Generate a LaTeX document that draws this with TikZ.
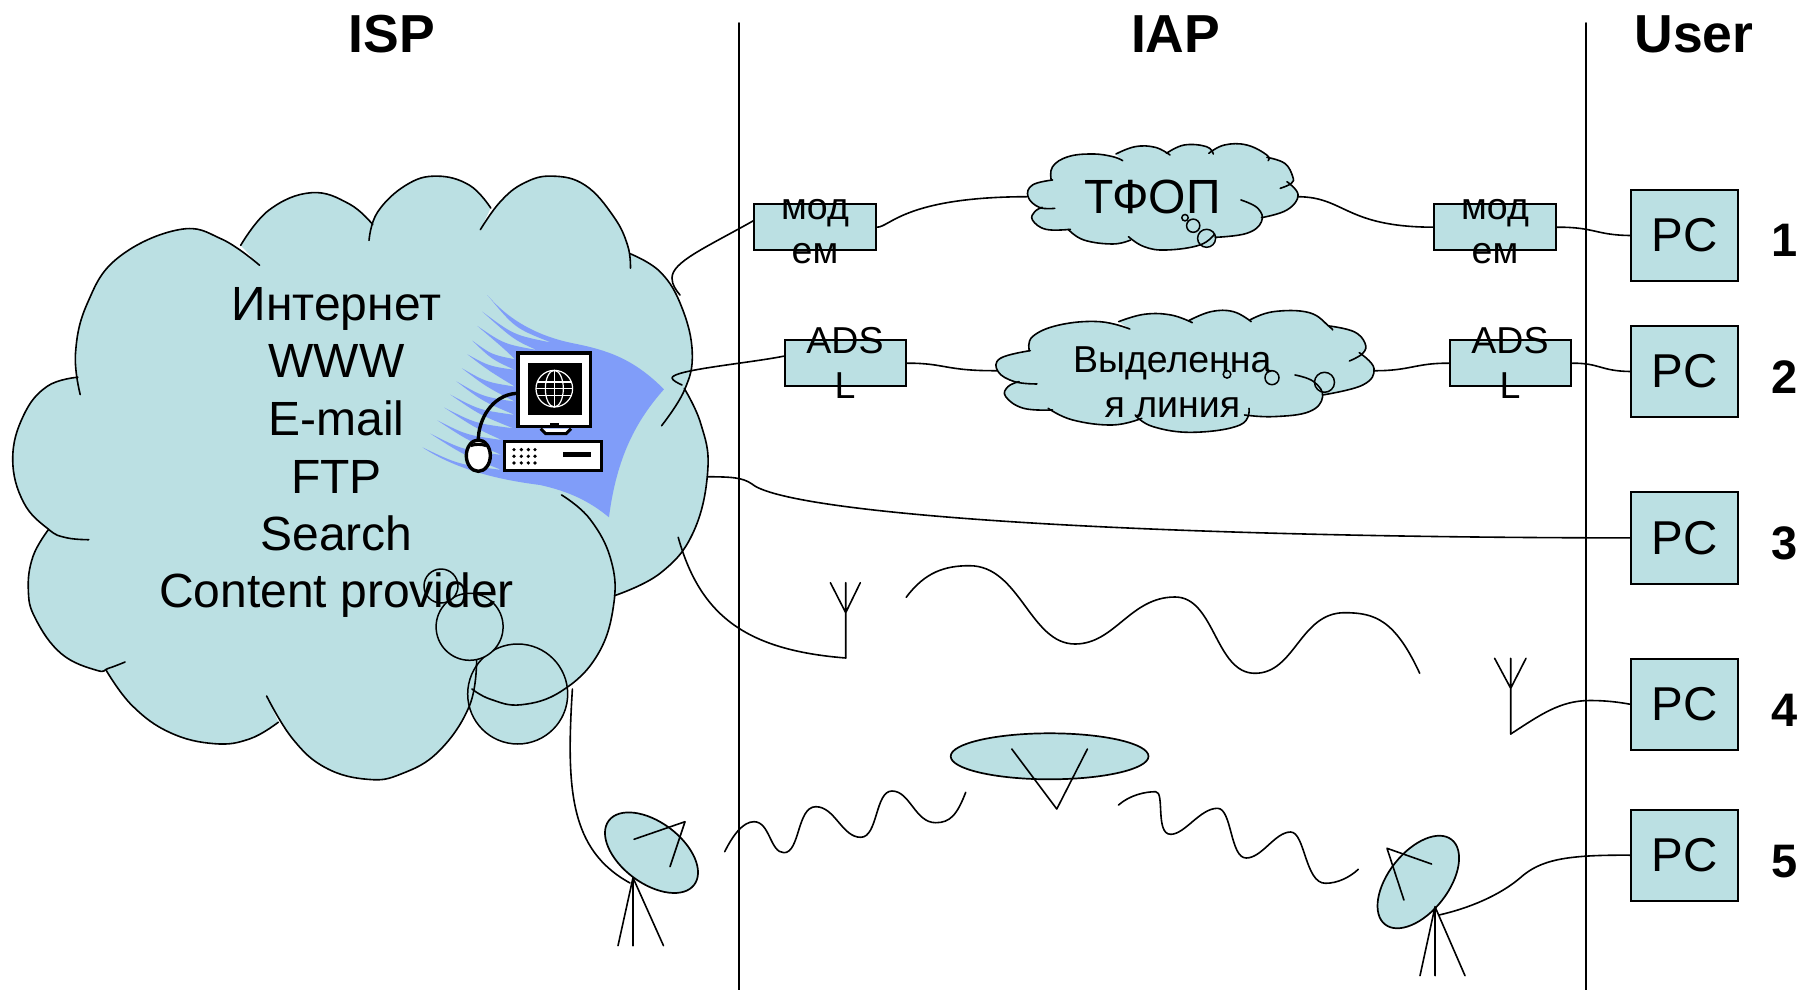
\documentclass[tikz,border=0pt]{standalone}
\usepackage{fontspec}
\setmainfont{Liberation Sans}
\usetikzlibrary{shapes.geometric}
\definecolor{cloudc}{HTML}{BBE0E3}
\definecolor{blueart}{HTML}{809DF9}
\newcommand{\fs}[1]{\fontsize{#1}{#1}\selectfont}
\tikzset{
  ln/.style={line width=1.6pt,line cap=round,line join=round},
  wire/.style={ln,black},
  cloudline/.style={ln},
  boxed/.style={draw=black,fill=cloudc,line width=2pt,inner sep=0pt},
  pcbox/.style={boxed,minimum width=106.7pt,minimum height=91.4pt,font=\fs{47.5}},
  modembox/.style={boxed,minimum width=121.7pt,minimum height=45.7pt},
  txt/.style={anchor=base,inner sep=0pt,outer sep=0pt},
  big/.style={txt,font=\fs{48}},
  mid/.style={txt,font=\fs{37.5}},
  head/.style={txt,font=\bfseries\fs{53.5}},
  num/.style={txt,font=\bfseries\fs{47}},
  dish/.style={ellipse,draw=black,fill=cloudc,line width=1.7pt,inner sep=0pt},
  bubble/.style={draw=black,fill=cloudc,line width=1.5pt},
}
\def\smo{plot[smooth,tension=.7] coordinates}
\def\fol{-- plot[smooth,tension=.7] coordinates}
% big cloud lobes
\def\bcA#1{#1{(170,590) (160,490) (185,370) (250,260) (380,192) (470,215) (550,278)}}
\def\bcB#1{#1{(510,230) (570,145) (660,103) (740,130) (790,180)}}
\def\bcC#1{#1{(782,218) (800,150) (860,85) (925,63) (995,85) (1040,140)}}
\def\bcD#1{#1{(1018,192) (1060,125) (1110,80) (1170,63) (1240,85) (1300,160) (1330,230) (1336,285)}}
\def\bcE#1{#1{(1335,250) (1400,295) (1445,380) (1467,490) (1450,580) (1402,665)}}
\def\bcF#1{#1{(1450,575) (1485,660) (1500,770) (1470,920) (1400,1020) (1302,1075)}}
\def\bcG#1{#1{(1190,832) (1250,890) (1295,990) (1300,1100) (1265,1220) (1190,1305) (1105,1338) (1040,1325) (1000,1300)}}
\def\bcH#1{#1{(1010,1230) (995,1340) (930,1450) (850,1505) (780,1518) (690,1490) (620,1420) (565,1317)}}
\def\bcI#1{#1{(590,1380) (530,1420) (455,1432) (360,1405) (280,1340) (225,1255)}}
\def\bcJ#1{#1{(265,1235) (230,1250) (205,1255) (130,1215) (75,1130) (60,1060) (70,980) (103,915)}}
\def\bcK#1{#1{(188,940) (140,935) (103,915) (50,850) (27,745) (50,640) (100,570) (165,548)}}
% TFOP cloud lobes
\def\tcA#1{#1{(750,235) (715,232) (690,200) (700,165) (745,150)}}
\def\tcB#1{#1{(742,150) (745,110) (780,80) (835,72) (880,80) (902,92)}}
\def\tcC#1{#1{(887,72) (930,50) (975,52) (1008,75)}}
\def\tcD#1{#1{(1000,70) (1040,45) (1090,50) (1105,72)}}
\def\tcE#1{#1{(1095,70) (1130,45) (1180,45) (1225,75) (1228,92)}}
\def\tcF#1{#1{(1225,82) (1265,100) (1283,140) (1280,160) (1255,175)}}
\def\tcG#1{#1{(1270,155) (1295,195) (1270,240) (1213,263)}}
\def\tcH#1{#1{(1167,210) (1205,235) (1213,275) (1180,310) (1110,322)}}
\def\tcI#1{#1{(1108,312) (1075,345) (1000,360) (950,350) (915,320)}}
\def\tcJ#1{#1{(920,330) (880,342) (815,330) (780,298)}}
\def\tcK#1{#1{(785,298) (730,298) (700,270) (705,245) (722,232)}}
% leased line cloud lobes
\def\lcA#1{#1{(710,762) (660,755) (623,725) (628,685) (695,662)}}
\def\lcB#1{#1{(693,662) (700,620) (760,585) (850,575) (918,597)}}
\def\lcC#1{#1{(893,575) (950,553) (1010,555) (1058,578)}}
\def\lcD#1{#1{(1050,572) (1100,545) (1150,545) (1190,575)}}
\def\lcE#1{#1{(1187,570) (1240,545) (1320,548) (1365,590) (1372,600)}}
\def\lcF#1{#1{(1365,588) (1420,605) (1445,640) (1440,670) (1410,693)}}
\def\lcG#1{#1{(1432,668) (1465,715) (1440,765) (1350,795)}}
\def\lcH#1{#1{(1288,735) (1330,755) (1350,800) (1320,845) (1240,860) (1175,855)}}
\def\lcI#1{#1{(1185,835) (1165,885) (1060,907) (970,890) (930,855)}}
\def\lcJ#1{#1{(945,865) (880,885) (790,870) (735,835)}}
\def\lcK#1{#1{(745,840) (680,835) (640,800) (645,770) (670,755)}}
\begin{document}
\begin{tikzpicture}[x=1pt,y=-1pt]
\useasboundingbox (0,0) rectangle (1802,990);
\fill[white] (0,0) rectangle (1802,990);

% dividers
\coordinate (d1t) at (739,23); \coordinate (d1b) at (739,990);
\coordinate (d2t) at (1586,23); \coordinate (d2b) at (1586,990);
\draw[ln] (d1t) -- (d1b);
\draw[ln] (d2t) -- (d2b);

% big cloud
\begin{scope}[shift={(0,150)},x=0.4719pt,y=-0.4146pt]
\fill[cloudc] \bcA{\smo} \bcB{\fol} \bcC{\fol} \bcD{\fol} \bcE{\fol} \bcF{\fol} \bcG{\fol} \bcH{\fol} \bcI{\fol} \bcJ{\fol} \bcK{\fol} -- cycle;
\end{scope}
\fill[cloudc] (517.7,694) circle (50);
\draw[bubble] (517.7,694) circle (50);
\draw[bubble] (469.6,626.8) circle (33.5);
\draw[bubble] (441,586) circle (17);

% computer art
\begin{scope}[shift={(400,280)},x=0.3333pt,y=-0.3333pt]
\fill[blueart] (262,45) .. controls (330,125) and (420,170) .. (520,190)
  .. controls (620,210) and (700,235) .. (792,328)
  .. controls (710,420) and (650,530) .. (627,712)
  .. controls (570,665) and (510,635) .. (420,615)
  .. controls (300,600) and (170,570) .. (67,502)
  .. controls (174,553) .. (305,570) .. controls (187,523) .. (91,461)
  .. controls (187,509) .. (305,525) .. controls (199,479) .. (112,421)
  .. controls (199,465) .. (305,480) .. controls (226,444) .. (133,383)
  .. controls (226,430) .. (340,445) .. controls (238,404) .. (151,344)
  .. controls (238,390) .. (345,405) .. controls (248,364) .. (169,304)
  .. controls (248,350) .. (345,365) .. controls (258,320) .. (186,265)
  .. controls (258,306) .. (345,320) .. controls (266,272) .. (202,223)
  .. controls (266,258) .. (345,270) .. controls (275,238) .. (217,182)
  .. controls (275,224) .. (345,238) .. controls (312,206) .. (232,138)
  .. controls (312,192) .. (410,210) .. controls (341,179) .. (247,95)
  .. controls (341,165) .. (455,188) .. controls (345,145) .. (262,45) -- cycle;
% cable
\draw[line width=3.4pt] (350,340) .. controls (275,345) and (235,420) .. (235,480);
% monitor
\draw[line width=3.6pt,fill=white,line join=miter] (354,219) rectangle (571,440);
\fill[black] (384,249) rectangle (545,404);
\draw[line width=3pt,fill=white,line join=miter] (422,446) -- (437,461) -- (498,461) -- (513,446);
\fill[black] (450,430) rectangle (477,442);
% globe
\draw[white,line width=1.2pt] (463,326) circle (55);
\draw[white,line width=1.2pt] (463,326) ellipse (27 and 55);
\draw[white,line width=1.2pt] (463,271) -- (463,381);
\draw[white,line width=1.2pt] (412,306) -- (514,306) (408,326) -- (518,326) (412,346) -- (514,346);
% base
\draw[line width=3pt,fill=white] (313,485) rectangle (606,573);
\foreach \cx in {342,364,385,405}{\foreach \cy in {509,529,549}{\fill[black] (\cx,\cy) circle (5.5);}}
\fill[black] (490,517) rectangle (572,531);
% mouse
\draw[line width=3.4pt,fill=white] (235,527) ellipse (36 and 47);
\draw[line width=3pt] (212,497) .. controls (225,492) and (245,492) .. (258,497);
\end{scope}

% big cloud outline
\begin{scope}[shift={(0,150)},x=0.4719pt,y=-0.4146pt,cloudline]
\draw \bcA{\smo}; \draw \bcB{\smo}; \draw \bcC{\smo}; \draw \bcD{\smo};
\draw \bcE{\smo}; \draw \bcF{\smo}; \draw \bcG{\smo}; \draw \bcH{\smo};
\draw \bcI{\smo}; \draw \bcJ{\smo}; \draw \bcK{\smo};
\end{scope}

% cloud TFOP
\begin{scope}[shift={(720,130)},x=0.4464pt,y=-0.3333pt,cloudline]
\fill[cloudc] \tcA{\smo} \tcB{\fol} \tcC{\fol} \tcD{\fol} \tcE{\fol} \tcF{\fol} \tcG{\fol} \tcH{\fol} \tcI{\fol} \tcJ{\fol} \tcK{\fol} -- cycle;
\end{scope}
\draw[bubble] (1206.6,238.3) circle (9);
\draw[bubble] (1193.2,225.7) circle (6.6);
\draw[bubble] (1185,217.7) circle (3.2);
\begin{scope}[shift={(720,130)},x=0.4464pt,y=-0.3333pt,cloudline]
\draw \tcA{\smo}; \draw \tcB{\smo}; \draw \tcC{\smo}; \draw \tcD{\smo};
\draw \tcE{\smo}; \draw \tcF{\smo}; \draw \tcG{\smo}; \draw \tcH{\smo};
\draw \tcI{\smo}; \draw \tcJ{\smo}; \draw \tcK{\smo};
\end{scope}

% cloud leased line
\begin{scope}[shift={(720,130)},x=0.4464pt,y=-0.3333pt,cloudline]
\fill[cloudc] \lcA{\smo} \lcB{\fol} \lcC{\fol} \lcD{\fol} \lcE{\fol} \lcF{\fol} \lcG{\fol} \lcH{\fol} \lcI{\fol} \lcJ{\fol} \lcK{\fol} -- cycle;
\end{scope}
\draw[bubble] (1324.5,382.3) circle (10);
\draw[bubble] (1272,377.7) circle (7);
\draw[bubble] (1227,374.3) circle (3.8);
\begin{scope}[shift={(720,130)},x=0.4464pt,y=-0.3333pt,cloudline]
\draw \lcA{\smo}; \draw \lcB{\smo}; \draw \lcC{\smo}; \draw \lcD{\smo};
\draw \lcE{\smo}; \draw \lcF{\smo}; \draw \lcG{\smo}; \draw \lcH{\smo};
\draw \lcI{\smo}; \draw \lcJ{\smo}; \draw \lcK{\smo};
\end{scope}

% boxes
\node[modembox] (m1) at (815.3,227.2) {};
\node[modembox] (m2) at (1495.3,227.2) {};
\node[modembox] (a1) at (845.4,363.2) {};
\node[modembox] (a2) at (1510.5,363.2) {};
\node[pcbox] (p1) at (1684.3,235.5) {PC};
\node[pcbox] (p2) at (1684.3,371.5) {PC};
\node[pcbox] (p3) at (1684.3,537.9) {PC};
\node[pcbox] (p4) at (1684.3,704.2) {PC};
\node[pcbox] (p5) at (1684.3,855.2) {PC};

% named ends on the clouds
\coordinate (tfL) at (1026.7,196.7);
\coordinate (tfR) at (1298,196.7);
\coordinate (llL) at (996.8,370.7);
\coordinate (llR) at (1374,370.7);
\coordinate (ispM) at (680,295);
\coordinate (ispA) at (682,385);
\coordinate (ispW) at (708,476.7);
\coordinate (ispR) at (678.2,537.3);
\coordinate (ispS) at (572.4,689);

% antennas and dishes
\coordinate (ant1) at (845.7,658);
\coordinate (ant1m) at (845.7,612.7);
\coordinate (ant2) at (1510.7,734);
\coordinate (ant2m) at (1510.7,688.3);
\draw[ln] (ant1) -- (845.7,582.7) (ant1m) -- (830.4,582.7) (ant1m) -- (860.3,582.7);
\draw[ln] (ant2) -- (1510.7,658.3) (ant2m) -- (1494.6,658.3) (ant2m) -- (1526,658.3);

\node[dish,minimum width=106.8pt,minimum height=61.2pt,rotate=-36.8] (dl) at (651.5,852.7) {};
\node[dish,minimum width=197.8pt,minimum height=46pt] (ds) at (1049.6,756.3) {};
\node[dish,minimum width=107.8pt,minimum height=60pt,rotate=51.9] (dr) at (1418.3,882) {};
\draw[ln] (634,839.3) -- (685,821.7) -- (670,866.7);
\draw[ln] (1011.8,749) -- (1056.8,809) -- (1087.4,749);
\draw[ln] (1431.5,864) -- (1387,848.3) -- (1403.9,900);
\coordinate (tl) at (633,877.7);
\coordinate (tr) at (1435,906.7);
\draw[ln] (618,945.7) -- (tl) -- (633,945.7) (tl) -- (663.5,945.7);
\draw[ln] (1420,975.7) -- (tr) -- (1435,975.7) (tr) -- (1465,975.7);
\coordinate (dlw) at (630,883);
\coordinate (drw) at (1439,915);

% connectors
\draw[wire] ([yshift=6.5pt]m1.west) .. controls (705,248) and (672,262) .. (672,278) .. controls (672,285) and (676,290) .. (ispM);
\draw[wire] (m1.east) .. controls (890,227) and (905,197) .. (tfL);
\draw[wire] (tfR) .. controls (1345,197) and (1345,227) .. (m2.west);
\draw[wire] (m2.east) .. controls (1595,227) and (1595,235) .. (p1.west);
\draw[wire] ([yshift=7pt]a1.west) .. controls (750,363) and (672,370) .. (672,378) .. controls (673,381) and (678,383) .. (ispA);
\draw[wire] (a1.east) .. controls (945,363) and (945,371) .. (llL);
\draw[wire] (llR) .. controls (1410,371) and (1415,363) .. (a2.west);
\draw[wire] (a2.east) .. controls (1600,363) and (1600,371) .. (p2.west);
\draw[wire] (ispW) .. controls (730,477) and (742,477) .. (752,484) .. controls (785,512) and (1100,537.4) .. (p3.west);
\draw[wire] (ispR) .. controls (700,615) and (745,650) .. (ant1);
\draw[wire] (ant2) .. controls (1540,715) and (1560,700.5) .. (1590,700.5) .. controls (1605,700.5) and (1618,702) .. (p4.west);
\draw[wire] (ispS) .. controls (566,790) and (570,850) .. (dlw);
\draw[wire] (drw) .. controls (1470,908) and (1500,895) .. (1520,878) .. controls (1540,860) and (1565,854.7) .. (p5.west);

% radio waves
\draw[ln] (906.2,597.3) .. controls (925,572) and (945,565.7) .. (969.5,565.7)
  .. controls (1020,565.7) and (1030,644) .. (1075,644)
  .. controls (1115,644) and (1130,597) .. (1175,597)
  .. controls (1215,597) and (1215,673.3) .. (1255,673.3)
  .. controls (1295,673.3) and (1300,612.7) .. (1344.6,612.7)
  .. controls (1375,612.7) and (1395,620) .. (1419.7,673.3);
\draw[ln] (724.7,851.7) .. controls (733,835) and (743,821.7) .. (754,821.7)
  .. controls (770,821.7) and (770,852.7) .. (784,852.7)
  .. controls (800,852.7) and (797,806.7) .. (815.8,806.7)
  .. controls (835,806.7) and (842,837.3) .. (860.7,837.3)
  .. controls (878,837.3) and (875,791) .. (892,791)
  .. controls (910,791) and (915,822.7) .. (935.7,822.7)
  .. controls (950,822.7) and (957,815) .. (965.7,792.3);
\draw[ln] (1118.5,805) .. controls (1130,795) and (1145,791.7) .. (1155.7,791.7)
  .. controls (1165,791.7) and (1155,834.3) .. (1170.7,834.3)
  .. controls (1185,834.3) and (1200,808.3) .. (1217.5,808.3)
  .. controls (1232,808.3) and (1230,858) .. (1246.2,858)
  .. controls (1262,858) and (1275,832) .. (1290.6,832)
  .. controls (1305,832) and (1305,883.3) .. (1325.4,883.3)
  .. controls (1338,883.3) and (1350,877) .. (1358.3,869.3);

% texts
\node[head] (tisp) at (392,53) {ISP};
\node[head] (tiap) at (1175.6,53) {IAP};
\node[head] (tuser) at (1694,53) {User};
\node[big] (t1) at (336.5,320) {Интернет};
\node[big] (t2) at (336.5,377.8) {WWW};
\node[big] (t3) at (336.5,435.4) {E-mail};
\node[big] (t4) at (336.5,493) {FTP};
\node[big] (t5) at (336.5,550.3) {Search};
\node[big] (t6) at (336.5,607.9) {Content provider};
\node[big] (tf) at (1152.5,213.8) {ТФОП};
\node[mid] (l1) at (1172.3,372.3) {Выделенна};
\node[mid] (l2) at (1172.3,417.6) {я линия};
\node[mid] (m1a) at (815,219) {мод};
\node[mid] (m1b) at (815,263.4) {ем};
\node[mid] (m2a) at (1495,219) {мод};
\node[mid] (m2b) at (1495,263.4) {ем};
\node[mid] (a1a) at (845,353.4) {ADS};
\node[mid] (a1b) at (845,398.4) {L};
\node[mid] (a2a) at (1510,353.4) {ADS};
\node[mid] (a2b) at (1510,398.4) {L};
\node[num] (n1) at (1785,256.5) {1};
\node[num] (n2) at (1785,393.8) {2};
\node[num] (n3) at (1785,559.5) {3};
\node[num] (n4) at (1785,726.2) {4};
\node[num] (n5) at (1785,877) {5};
\end{tikzpicture}
\end{document}
